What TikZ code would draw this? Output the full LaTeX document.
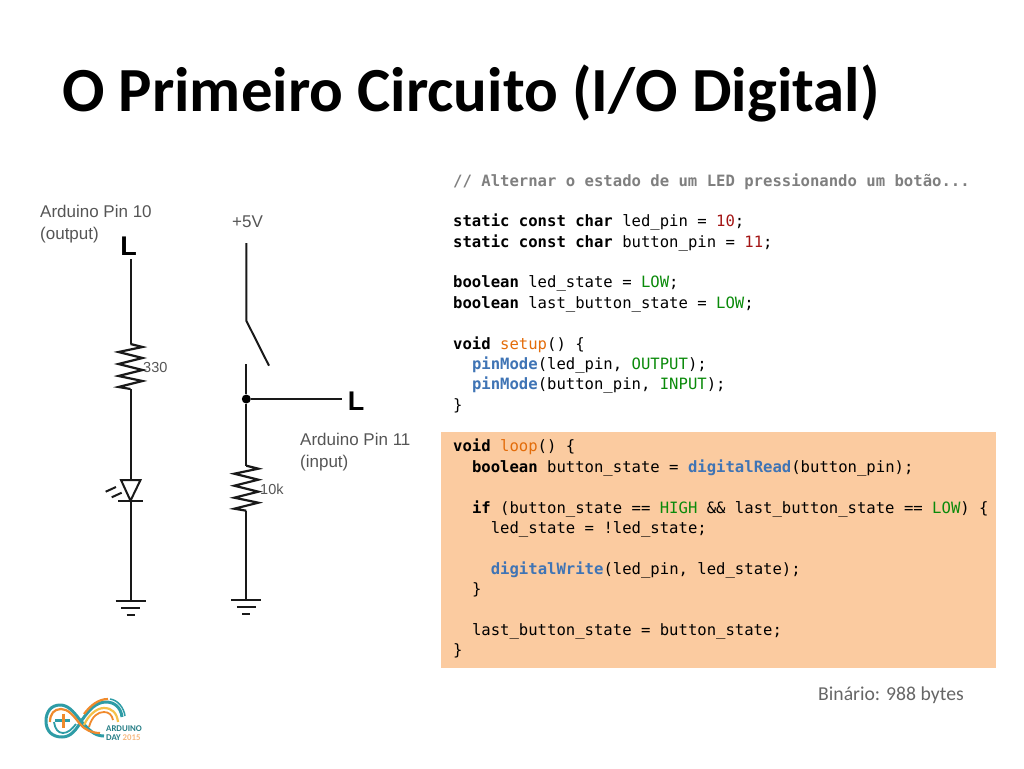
\documentclass[tikz,border=0pt]{standalone}
\usepackage{fontspec}
\setmainfont{Carlito}
\newfontfamily\codefont{DejaVu Sans Mono}
\newfontfamily\schemfont{Liberation Sans}
\usetikzlibrary{positioning}

\definecolor{cmtgray}{HTML}{7F7F7F}
\definecolor{numred}{HTML}{A31515}
\definecolor{constgreen}{HTML}{0A8A0A}
\definecolor{fnorange}{HTML}{E36C0A}
\definecolor{fnblue}{HTML}{3F74B5}
\definecolor{peach}{HTML}{FBCBA0}
\definecolor{schemgray}{HTML}{555555}
\definecolor{logoteal}{HTML}{2E9CA6}
\definecolor{logoorange}{HTML}{F08A2C}
\definecolor{logoyellow}{HTML}{F5C04A}

\newcommand{\kw}[1]{\textbf{#1}}
\newcommand{\cmt}[1]{\textcolor{cmtgray}{\textbf{#1}}}
\newcommand{\num}[1]{\textcolor{numred}{#1}}
\newcommand{\cst}[1]{\textcolor{constgreen}{#1}}
\newcommand{\fnu}[1]{\textcolor{fnorange}{#1}}
\newcommand{\fnb}[1]{\textcolor{fnblue}{\textbf{#1}}}
\newcommand{\ind}[1]{\hspace*{#1\dimexpr 9.4pt\relax}}

\tikzset{
	wire/.style={line width=2pt, black!90},
	pinlabel/.style={font=\schemfont\fontsize{17}{22.5}\selectfont, text=schemgray, inner sep=0pt, align=left, anchor=north west},
	rlabel/.style={font=\schemfont\fontsize{14.5}{16}\selectfont, text=schemgray, inner sep=0pt, anchor=west},
	pinletter/.style={font=\schemfont\bfseries\fontsize{27}{27}\selectfont, inner sep=0pt},
	codeblock/.style={font=\codefont\fontsize{15.6}{20.4}\selectfont, inner sep=0pt, align=left, anchor=north west},
	logoline/.style={line width=2.2pt},
	resistor/.pic={
		\draw[wire, line width=2.2pt, line join=miter] (0,0) -- (12,3) -- (-12,8) -- (12,14) -- (-12,20) -- (12,26) -- (-12,32) -- (12,37) -- (-12,43) -- (0,45);
	},
	groundsym/.pic={
		\draw[wire] (-15,0) -- (15,0);
		\draw[wire] (-9.5,7) -- (9.5,7);
		\draw[wire] (-4,14) -- (4,14);
	}
}

\begin{document}
\begin{tikzpicture}[x=1pt, y=-1pt]
	\useasboundingbox (0,0) rectangle (1024,768);

	\node[font=\bfseries\fontsize{62.8}{66}\selectfont, inner sep=0pt, anchor=base west] (title) at (62,111.5) {O Primeiro Circuito (I/O Digital)};

	% left branch
	\node[pinlabel] (pinten) at (40,204.5) {Arduino Pin 10\\(output)};
	\node[pinletter] (ltop) at (128.7,246.7) {L};
	\coordinate (rtopa) at (130.5,344);
	\coordinate (rbota) at (130.5,389);
	\coordinate (ledtop) at (130.5,480);
	\coordinate (ledbot) at (130.5,500.7);
	\coordinate (gnda) at (130.5,601.3);
	\node[rlabel] (rval) at (143,368) {330};

	\draw[wire] (ltop.south -| rtopa) ++(0,3) -- (rtopa);
	\pic at (rtopa) {resistor};
	\draw[wire] (rbota) -- (ledtop);
	\draw[wire] (121,480) -- (140.5,480) -- (ledbot) -- cycle;
	\draw[wire] (118,500.7) -- (142.7,500.7);
	\draw[wire] (ledbot) -- (gnda);
	\draw[wire] (105.7,491.7) -- (116,487);
	\draw[wire] (111.7,497.3) -- (121.7,492.7);
	\pic at (gnda) {groundsym};

	% right branch
	\node[pinlabel, anchor=west] (fivev) at (232,222) {+5V};
	\coordinate (vtop) at (246.3,243);
	\coordinate (swa) at (246.3,320.7);
	\coordinate (swb) at (269,365.7);
	\coordinate (swc) at (246.3,364.3);
	\node[circle, fill=black, inner sep=0pt, minimum size=9pt] (junc) at (246.3,399) {};
	\coordinate (rtopb) at (246.3,465.7);
	\coordinate (rbotb) at (246.3,510.7);
	\coordinate (gndb) at (246.3,599.7);
	\node[pinletter] (lin) at (356,401.7) {L};
	\node[rlabel] (rvalb) at (260,489) {10k};
	\node[pinlabel] (pineleven) at (300,432.5) {Arduino Pin 11\\(input)};

	\draw[wire] (vtop) -- (swa) -- (swb);
	\draw[wire] (swc) -- (junc) -- (rtopb);
	\draw[wire] (junc) -- (342.3,399);
	\pic at (rtopb) {resistor};
	\draw[wire] (rbotb) -- (gndb);
	\pic at (gndb) {groundsym};

	% code
	\node[fill=peach, minimum width=555pt, minimum height=236pt, inner sep=0pt, anchor=north west] (hlbox) at (441,432) {};

	\node[codeblock] (setupcode) at (453,174) {%
		\cmt{// Alternar o estado de um LED pressionando um botão...}\\
		\mbox{}\\[-1pt]
		\kw{static const char} led\_pin = \num{10};\\
		\kw{static const char} button\_pin = \num{11};\\
		\mbox{}\\
		\kw{boolean} led\_state = \cst{LOW};\\
		\kw{boolean} last\_button\_state = \cst{LOW};\\
		\mbox{}\\
		\kw{void} \fnu{setup}() \{\\
		\ind{2}\fnb{pinMode}(led\_pin, \cst{OUTPUT});\\
		\ind{2}\fnb{pinMode}(button\_pin, \cst{INPUT});\\
		\}};

	\node[codeblock] (loopcode) at (453,439) {%
		\kw{void} \fnu{loop}() \{\\
		\ind{2}\kw{boolean} button\_state = \fnb{digitalRead}(button\_pin);\\
		\mbox{}\\
		\ind{2}\kw{if} (button\_state == \cst{HIGH} \&\& last\_button\_state == \cst{LOW}) \{\\
		\ind{4}led\_state = !led\_state;\\
		\mbox{}\\
		\ind{4}\fnb{digitalWrite}(led\_pin, led\_state);\\
		\ind{2}\}\\
		\mbox{}\\
		\ind{2}last\_button\_state = button\_state;\\
		\}};

	\node[font=\fontsize{19.7}{21}\selectfont, text=black!60, inner sep=0pt, anchor=base west] (binsize) at (818,700) {Binário: 988 bytes};

	% logo
	\draw[logoline, logoteal, line width=3pt] (104,736) .. controls (94,736) and (88,729) .. (80,720) .. controls (73,711) and (68,705) .. (60,705) .. controls (51,705) and (46,712) .. (46,721) .. controls (46,731) and (52,737) .. (62,737) .. controls (71,737) and (76,730) .. (82,720) .. controls (89,710) and (96,702) .. (106,702) .. controls (115,702) and (121,708) .. (122,717);
	\draw[logoline, logoorange] (50,722) .. controls (50,714) and (54,709) .. (61,709) .. controls (68,709) and (73,715) .. (80,724) .. controls (85,730) and (92,733) .. (100,733);
	\draw[logoline, logoorange] (84,714) .. controls (90,706) and (98,699) .. (108,699);
	\draw[logoline, logoteal, line width=1.8pt] (54,722) .. controls (55,729) and (58,733) .. (63,733) .. controls (68,733) and (72,729) .. (76,724);
	\draw[logoline, logoyellow] (84,725) .. controls (88,716) and (96,708) .. (104,708) .. controls (112,708) and (117,713) .. (118,722);
	\draw[logoline, logoorange, line width=1.8pt] (89,727) .. controls (92,716) and (98,712) .. (104,712) .. controls (109,712) and (112,715) .. (113,720);
	\draw[logoteal, line width=1.5pt] (110,699) .. controls (118,700) and (124,708) .. (125,716);
	\draw[line width=3pt, logoteal] (55,720.5) -- (70,720.5);
	\draw[line width=3pt, logoorange] (63,713.5) -- (63,727.5);
	\node[font=\bfseries\fontsize{8.8}{9}\selectfont, text=logoteal!80!black, inner sep=0pt, anchor=west] (logoname) at (106,729) {ARDUINO};
	\node[font=\bfseries\fontsize{8.8}{9}\selectfont, text=logoteal!80!black, inner sep=0pt, anchor=west] (logoday) at (106,738) {DAY \textcolor{logoorange!60}{2015}};
\end{tikzpicture}
\end{document}
